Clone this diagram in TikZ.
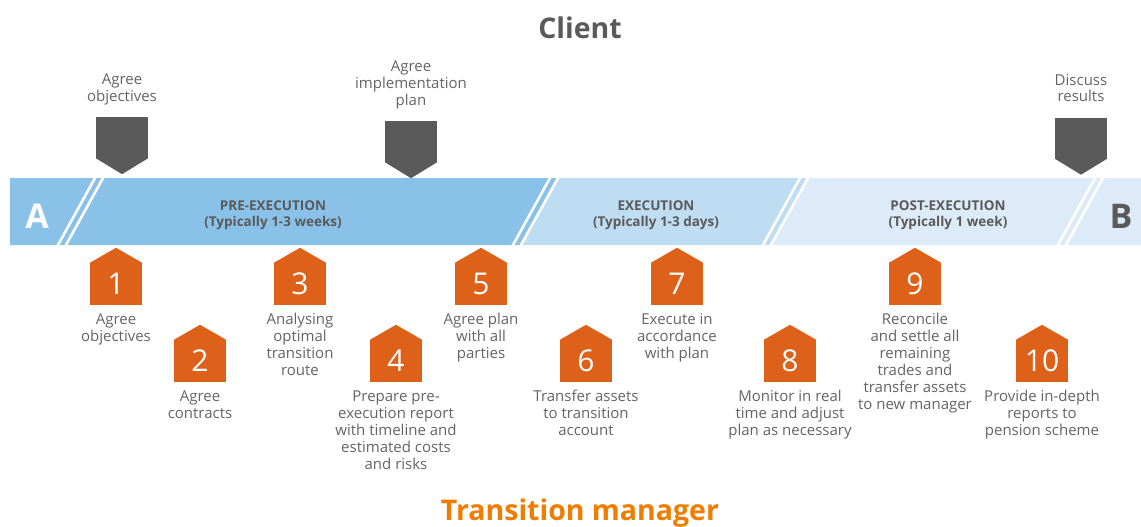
\documentclass[tikz,border=0pt]{standalone}
\usepackage{fontspec}
\setmainfont{Open Sans}
\usetikzlibrary{positioning}

\definecolor{bandmid}{HTML}{8AC1E9}
\definecolor{bandlight}{HTML}{BEDCF2}
\definecolor{bandpale}{HTML}{DDEBF8}
\definecolor{markgray}{HTML}{5A5A5A}
\definecolor{steporange}{HTML}{DE6119}
\definecolor{bodygray}{HTML}{646464}
\definecolor{phasegray}{HTML}{5A5A5A}
\definecolor{titleorange}{HTML}{EE7D00}

\begin{document}
\begin{tikzpicture}[x=1pt, y=-1pt,
    stepbox/.style = {fill=steporange, text=white, minimum width=52pt, minimum height=42pt, inner sep=0pt, font=\fontsize{30}{30}\selectfont},
    markbox/.style = {fill=markgray, minimum width=52pt, minimum height=41pt, inner sep=0pt},
    steptext/.style = {text=bodygray, align=center, inner sep=0pt, font=\fontsize{15}{17}\selectfont, execute at begin node=\strut, execute at end node=\strut},
    phase/.style = {text=phasegray, align=center, font=\bfseries\fontsize{13.5}{16}\selectfont},
    endletter/.style = {anchor=base, font=\bfseries\fontsize{34}{34}\selectfont},
    slash/.style = {white, line width=2.6pt},
    heading/.style = {anchor=base, font=\bfseries\fontsize{28.5}{30}\selectfont},]

	\useasboundingbox (0,0) rectangle (1141,527);

	% the band
	\fill[bandmid] (10,178) -- (558,178) -- (521,245) -- (10,245) -- cycle;
	\fill[bandlight] (558,178) -- (807,178) -- (771,245) -- (521,245) -- cycle;
	\fill[bandpale] (807,178) -- (1141,178) -- (1141,245) -- (771,245) -- cycle;
	\begin{scope}
		\clip (10,178) rectangle (1141,245);
		\draw[slash] (55.8,249) -- (97.2,174) (63.8,249) -- (105.2,174);
		\draw[slash] (510.8,249) -- (552.2,174) (518.8,249) -- (560.2,174);
		\draw[slash] (760.8,249) -- (802.2,174) (768.8,249) -- (810.2,174);
		\draw[slash] (1055.8,249) -- (1097.2,174) (1063.8,249) -- (1105.2,174);
	\end{scope}

	\node[endletter, text=white] (ptA) at (37,228) {A};
	\node[endletter, text=phasegray] (ptB) at (1121,228) {B};
	\node[phase] (pre) at (273,215) {PRE-EXECUTION\\(Typically 1-3 weeks)};
	\node[phase] (exe) at (656,215) {EXECUTION\\(Typically 1-3 days)};
	\node[phase] (post) at (948,215) {POST-EXECUTION\\(Typically 1 week)};

	% client side
	\node[heading, text=phasegray] (client) at (580,39) {Client};
	\node[markbox] (m1) at (122,137.5) {};
	\node[markbox] (m2) at (411,141.5) {};
	\node[markbox] (m3) at (1081,138) {};
	\foreach \m in {m1,m2,m3}
		\fill[markgray] (\m.south west) -- ([yshift=-16pt]\m.south) -- (\m.south east) -- cycle;
	\node[steptext, above=10pt of m1] (c1) {Agree\\objectives};
	\node[steptext, above=10pt of m2] (c2) {Agree\\implementation\\plan};
	\node[steptext, above=10pt of m3] (c3) {Discuss\\results};

	% transition manager side
	\node[stepbox] (s1) at (116,284) {1};
	\node[stepbox] (s2) at (200,361) {2};
	\node[stepbox] (s3) at (300,284) {3};
	\node[stepbox] (s4) at (396,361) {4};
	\node[stepbox] (s5) at (481,284) {5};
	\node[stepbox] (s6) at (586,361) {6};
	\node[stepbox] (s7) at (677,284) {7};
	\node[stepbox] (s8) at (790,361) {8};
	\node[stepbox] (s9) at (915,284) {9};
	\node[stepbox] (s10) at (1042,361) {10};
	\foreach \i in {1,...,10}
		\fill[steporange] (s\i.north west) -- ([yshift=15pt]s\i.north) -- (s\i.north east) -- cycle;

	\node[steptext, below=8pt of s1] (t1) {Agree\\objectives};
	\node[steptext, below=8pt of s2] (t2) {Agree\\contracts};
	\node[steptext, below=8pt of s3] (t3) {Analysing\\optimal\\transition\\route};
	\node[steptext, below=8pt of s4] (t4) {Prepare pre-\\execution report\\with timeline and\\estimated costs\\and risks};
	\node[steptext, below=8pt of s5] (t5) {Agree plan\\with all\\parties};
	\node[steptext, below=8pt of s6] (t6) {Transfer assets\\to transition\\account};
	\node[steptext, below=8pt of s7] (t7) {Execute in\\accordance\\with plan};
	\node[steptext, below=8pt of s8] (t8) {Monitor in real\\time and adjust\\plan as necessary};
	\node[steptext, below=8pt of s9] (t9) {Reconcile\\and settle all\\remaining\\trades and\\transfer assets\\to new manager};
	\node[steptext, below=8pt of s10] (t10) {Provide in-depth\\reports to\\pension scheme};

	\node[heading, text=titleorange] (tm) at (580,520) {Transition manager};

\end{tikzpicture}
\end{document}
